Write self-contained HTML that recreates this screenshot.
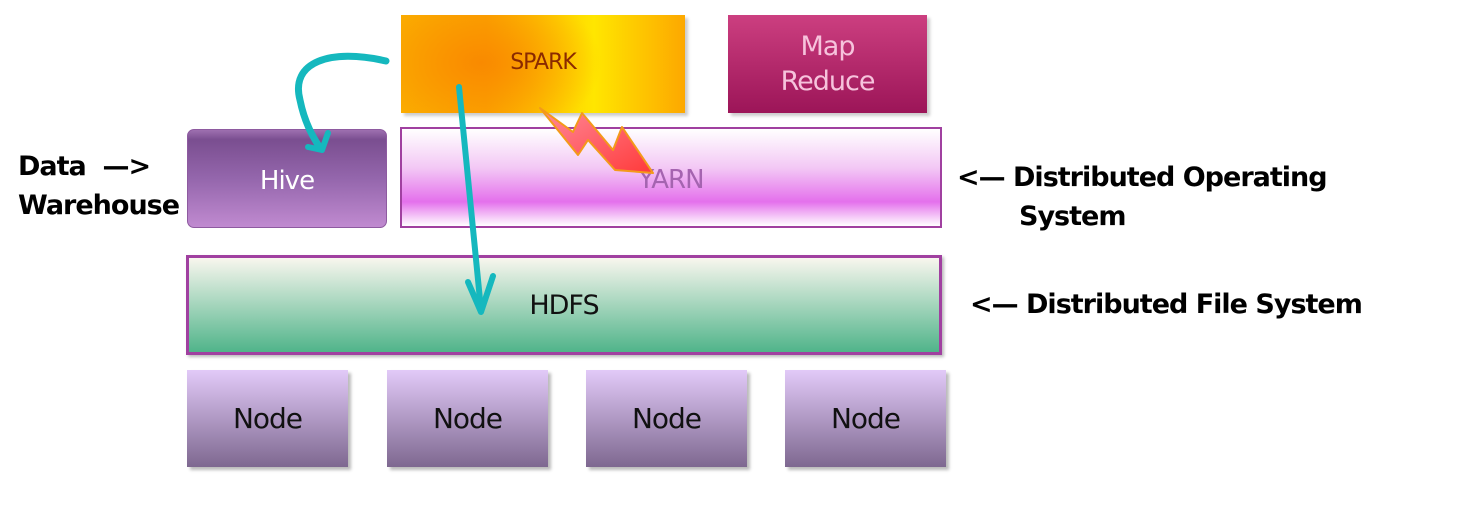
<!DOCTYPE html>
<html><head><meta charset="utf-8"><style>
html,body{margin:0;padding:0;background:#fff;}
body{width:1481px;height:512px;position:relative;overflow:hidden;font-family:"DejaVu Sans","Liberation Sans",sans-serif;}
.b{position:absolute;box-sizing:border-box;display:flex;align-items:center;justify-content:center;text-align:center;}
.lbl{position:absolute;font-family:"DejaVu Sans","Liberation Sans",sans-serif;font-weight:bold;font-size:27px;color:#000;line-height:38px;white-space:nowrap;letter-spacing:-1px}
.node{top:370px;width:161px;height:97px;background:linear-gradient(#e2caf8,#7e6890);box-shadow:3px 3px 3px #bbb;font-size:28px;color:#111;letter-spacing:-1px}
</style></head><body>
<div class="b" style="left:401px;top:15px;width:284px;height:98px;background:radial-gradient(ellipse 120px 80px at 80px 48px,#f98a00,rgba(255,150,0,0) ),linear-gradient(90deg,#fbb000 0%,#fca800 30%,#ffe600 68%,#fda800 100%);box-shadow:3px 3px 3px #ccc;font-size:22px;color:#8a2a00;letter-spacing:-1px;padding-bottom:4px">SPARK</div>
<div class="b" style="left:728px;top:15px;width:199px;height:98px;background:linear-gradient(#cc3f80,#9c1558);box-shadow:3px 3px 3px #ccc;font-size:27px;color:#f6c3dc;line-height:35px;letter-spacing:-1px">Map<br>Reduce</div>
<div class="b" style="left:187px;top:129px;width:200px;height:99px;border-radius:7px;border:1px solid #8e5aa0;background:linear-gradient(#9e70b0 0%,#7a4e90 10%,#9466ac 50%,#c08ad0 100%);font-size:26px;color:#fff;letter-spacing:-1px;padding-top:4px">Hive</div>
<div class="b" style="left:400px;top:127px;width:542px;height:101px;border:2px solid #a040a0;background:linear-gradient(#fff 0%,#f3c8f5 40%,#e470ec 75%,#fff 100%);font-size:26px;color:#a564b0;padding-top:4px;letter-spacing:-1px">YARN</div>
<div class="b" style="left:186px;top:255px;width:756px;height:100px;border:3px solid #a040a0;background:linear-gradient(#f8f6ee,#50b48a);box-shadow:2px 2px 3px #bbb;font-size:27px;color:#111;letter-spacing:-1px">HDFS</div>
<div class="b node" style="left:187px">Node</div>
<div class="b node" style="left:387px">Node</div>
<div class="b node" style="left:586px">Node</div>
<div class="b node" style="left:785px">Node</div>
<div class="lbl" style="left:18px;top:148px">Data &nbsp;—&gt;</div>
<div class="lbl" style="left:18px;top:187px">Warehouse</div>
<div class="lbl" style="left:957px;top:159px">&lt;— Distributed Operating</div>
<div class="lbl" style="left:1019px;top:198px">System</div>
<div class="lbl" style="left:970px;top:286px">&lt;— Distributed File System</div>
<svg width="1481" height="512" style="position:absolute;left:0;top:0">
<defs><linearGradient id="bg" x1="0" y1="0" x2="1" y2="1"><stop offset="0" stop-color="#ff8a9a"/><stop offset="1" stop-color="#ff3a3a"/></linearGradient></defs>
<polygon points="540,108 573,132 582,113 613,150 622,127 653,173 615,170 588,140 578,155" fill="url(#bg)" stroke="#f39a1a" stroke-width="2" stroke-linejoin="round"/>
<path d="M386,61 C330,48 290,62 300,100 C305,125 315,140 320,148" fill="none" stroke="#15b8be" stroke-width="7" stroke-linecap="round"/>
<path d="M308,147 L322,150 L328,133" fill="none" stroke="#15b8be" stroke-width="6" stroke-linecap="round" stroke-linejoin="round"/>
<path d="M459,87 L481,310" stroke="#15b8be" stroke-width="6" stroke-linecap="round"/>
<path d="M468,282 L481,312 L493,276" fill="none" stroke="#15b8be" stroke-width="6" stroke-linecap="round" stroke-linejoin="round"/>
</svg>
</body></html>
